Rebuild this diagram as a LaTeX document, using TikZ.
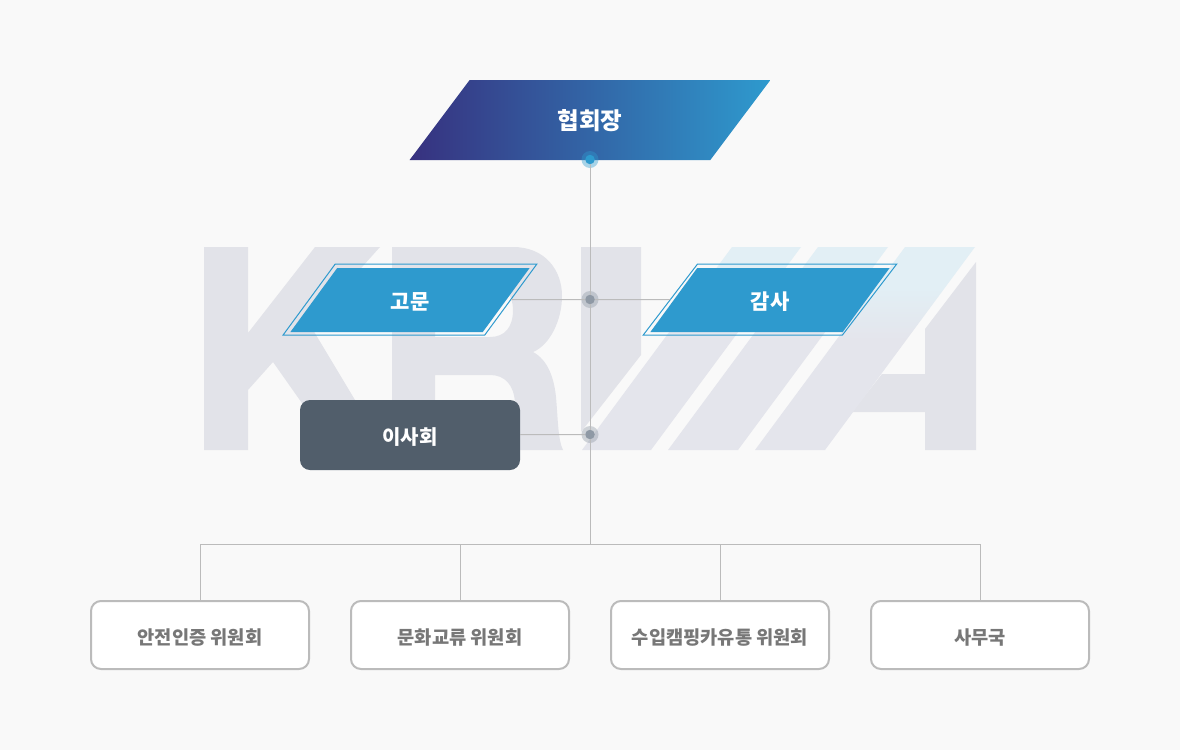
\documentclass[tikz,border=0pt]{standalone}
\usepackage{fontspec}
\setmainfont{Noto Sans CJK KR}
\usetikzlibrary{shapes.geometric}
\definecolor{pagebg}{HTML}{F9F9F9}
\definecolor{markgray}{HTML}{E2E3E9}
\definecolor{slashlow}{HTML}{E4E5EC}
\definecolor{slashhigh}{HTML}{E2EFF5}
\definecolor{chairdark}{HTML}{37317F}
\definecolor{skyblue}{HTML}{2E9ACE}
\definecolor{slate}{HTML}{515E6B}
\definecolor{linegray}{HTML}{BBBBBB}
\definecolor{textgray}{HTML}{777777}
\definecolor{dotgray}{HTML}{8F99A5}
\pgfdeclareverticalshading{slashfade}{100bp}{color(0bp)=(slashlow); color(52bp)=(slashlow); color(65bp)=(slashhigh); color(100bp)=(slashhigh)}

\begin{document}
\begin{tikzpicture}[x=1pt,y=-1pt]
	\tikzset{slanted/.style={trapezium,trapezium stretches=true,inner sep=0pt,outer sep=0pt}}
	\tikzset{chairbox/.style={slanted,minimum width=364pt,minimum height=80pt,trapezium left angle=50.3,trapezium right angle=129.7,left color=chairdark,right color=skyblue,text=white,text height=19.5pt,text depth=0pt,font=\fontsize{23.5}{23.5}\selectfont\bfseries}}
	\tikzset{advisorbox/.style={slanted,minimum width=240pt,minimum height=64pt,trapezium left angle=57.5,trapezium right angle=122.5,fill=skyblue,text=white,text height=19.5pt,text depth=0pt,font=\fontsize{21}{21}\selectfont\bfseries}}
	\tikzset{advisorframe/.style={slanted,minimum width=254pt,minimum height=71pt,draw=skyblue,line width=1pt,trapezium left angle=52.7,trapezium right angle=127.3}}
	\tikzset{boardbox/.style={rounded corners=10pt,minimum width=220pt,minimum height=70pt,inner sep=0pt,fill=slate,text=white,text height=18pt,text depth=0pt,font=\fontsize{20}{20}\selectfont\bfseries}}
	\tikzset{unitbox/.style={rounded corners=10pt,minimum width=218pt,minimum height=68pt,inner sep=0pt,draw=linegray,line width=2pt,fill=white,text=textgray,text height=18pt,text depth=0pt,font=\fontsize{18.7}{18.7}\selectfont\bfseries}}
	\tikzset{hubhalo/.style={circle,inner sep=0pt,minimum size=17pt,fill opacity=.4}}
	\tikzset{hubdot/.style={circle,inner sep=0pt,minimum size=9.5pt}}
	\tikzset{linkline/.style={draw=linegray,line width=1pt}}

	% page
	\fill[pagebg] (0,0) rectangle (1180,750);

	% watermark letters
	\fill[markgray] (204,247) -- (248,247) -- (248,333) -- (315,247) -- (380,247) -- (310,325) -- (385,450) -- (335,450) -- (273,362) -- (248,390) -- (248,450) -- (204,450) -- cycle;
	\fill[markgray,even odd rule] (392,247) -- (513,247) .. controls (545,247) and (562,270) .. (562,296) .. controls (562,320) and (550,345) .. (533,352) .. controls (548,360) and (554,378) .. (556,397) .. controls (558,420) and (558,440) .. (563,450) -- (515,450) -- (515,403) .. controls (514,385) and (505,375) .. (490,375) -- (435,375) -- (435,450) -- (392,450) -- cycle
		(435,285) -- (490,285) .. controls (505,285) and (513,295) .. (513,310) .. controls (513,327) and (505,337) .. (490,337) -- (435,337) -- cycle;
	\fill[markgray] (581,247) -- (641,247) -- (641,355) -- (581,432) -- cycle;
	\fill[markgray] (976,262) -- (976,450) -- (925,450) -- (925,412) -- (852,412) -- (882,374) -- (925,374) -- (925,329) -- cycle;
	\shade[shading=slashfade] (582,450) -- (732,247) -- (801,247) -- (651,450) -- cycle
		(668,450) -- (818,247) -- (888,247) -- (738,450) -- cycle
		(755,450) -- (905,247) -- (975,247) -- (825,450) -- cycle;

	% boxes
	\node[chairbox] (chair) at (590,120) {협회장};
	\node[advisorbox] (advisor) at (410,300) {고문};
	\node[advisorframe] (advisorout) at (410,299.5) {\phantom{고문}};
	\node[advisorbox] (auditor) at (770,300) {감사};
	\node[advisorframe] (auditorout) at (770,299.5) {\phantom{감사}};
	\node[boardbox] (board) at (410,435) {이사회};
	\foreach \name/\xpos/\txt in {safety/200/안전인증 위원회,culture/460/문화교류 위원회,income/720/수입캠핑카유통 위원회,office/980/사무국}
		\node[unitbox] (\name) at (\xpos,635) {\txt};

	% dots on the trunk
	\foreach \name/\ypos/\tone in {chairdot/159.5/skyblue,advisordot/299.5/dotgray,boarddot/434.5/dotgray}{
		\node[hubhalo,fill=\tone] at (590,\ypos) {};
		\node[hubdot,fill=\tone] (\name) at (590,\ypos) {};
	}
	\coordinate (split) at (590,544.5);

	% connectors
	\draw[linkline] (chairdot) -- (advisordot);
	\draw[linkline] (advisordot) -- (boarddot);
	\draw[linkline] (boarddot) -- (split);
	\draw[linkline] (advisorout) -- (advisordot);
	\draw[linkline] (auditorout) -- (advisordot);
	\draw[linkline] (board) -- (boarddot);
	\foreach \name in {safety,culture,income,office}
		\draw[linkline] (split) -| (\name);
\end{tikzpicture}
\end{document}
